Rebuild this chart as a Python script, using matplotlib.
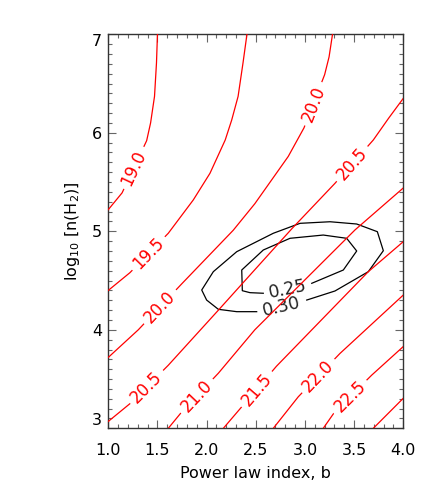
import numpy as np
import matplotlib
matplotlib.use('Agg')
import matplotlib.pyplot as plt
from matplotlib.ticker import MultipleLocator

# column density contours (log10 N), traced as polylines
c190_x = [1.00, 1.14, 1.39, 1.43, 1.47, 1.49, 1.50]
c190_y = [5.22, 5.39, 5.92, 6.10, 6.37, 6.71, 7.00]
c195_x = [1.00, 1.22, 1.61, 1.864, 2.034, 2.189, 2.255, 2.32, 2.37, 2.41]
c195_y = [4.40, 4.58, 4.98, 5.318, 5.589, 5.927, 6.13, 6.37, 6.71, 7.00]
c200_x = [1.00, 1.305, 1.75, 2.27, 2.49, 2.66, 2.83, 2.99, 3.20, 3.245, 3.28]
c200_y = [3.72, 4.00, 4.47, 5.01, 5.28, 5.52, 5.76, 6.05, 6.59, 6.77, 7.00]
c205_x = [1.00, 1.22, 1.61, 2.12, 2.49, 2.87, 3.305, 3.695, 3.85, 4.00]
c205_y = [3.07, 3.25, 3.64, 4.20, 4.61, 5.03, 5.487, 5.927, 6.147, 6.35]
c210_x = [1.61, 1.75, 2.12, 2.49, 3.51, 4.00]
c210_y = [3.00, 3.17, 3.56, 4.00, 5.015, 5.44]
c215_x = [2.17, 2.35, 2.71, 3.644, 4.00]
c215_y = [3.00, 3.21, 3.63, 4.59, 4.895]
c220_x = [2.678, 2.932, 3.356, 4.00]
c220_y = [3.00, 3.32, 3.76, 4.353]
c225_x = [3.186, 3.305, 3.679, 4.00]
c225_y = [3.00, 3.17, 3.54, 3.83]
c230_x = [3.695, 4.00]
c230_y = [3.00, 3.305]

red_lines = [(c190_x, c190_y), (c195_x, c195_y), (c200_x, c200_y),
             (c205_x, c205_y), (c210_x, c210_y), (c215_x, c215_y),
             (c220_x, c220_y), (c225_x, c225_y), (c230_x, c230_y)]
# label text and x position of each label, per contour
red_labels = [['19.0'], ['19.5'], ['20.0', '20.0'], ['20.5', '20.5'], ['21.0'],
              ['21.5'], ['22.0'], ['22.5'], []]
red_label_x = [[1.26], [1.41], [1.526, 3.085], [1.39, 3.48], [1.90],
               [2.51], [3.136], [3.458], []]

# fit quality contours (open where the label sits)
k25_x = [3.069, 3.39, 3.526, 3.424, 3.186, 2.848, 2.576, 2.357, 2.363, 2.441, 2.576]
k25_y = [4.472, 4.607, 4.80, 4.929, 4.962, 4.929, 4.81, 4.607, 4.397, 4.377, 4.371]
k30_x = [3.018, 3.305, 3.644, 3.797, 3.736, 3.526, 3.255, 2.95, 2.678, 2.306,
         2.068, 1.95, 2.0, 2.119, 2.306, 2.509]
k30_y = [4.302, 4.394, 4.59, 4.803, 4.996, 5.074, 5.097, 5.081, 4.98, 4.793,
         4.59, 4.404, 4.302, 4.208, 4.184, 4.184]
black_lines = [(k25_x, k25_y, '0.25'), (k30_x, k30_y, '0.30')]

fig = plt.figure(figsize=(4.36, 4.98), dpi=100)
ax = fig.add_axes([108.3 / 436, 1 - 428.3 / 498, 295 / 436, 394 / 498])
ax.set_xlim(1.0, 4.0)
ax.set_ylim(3.0, 7.0)


def angle_at(xs, ys, i):
    p0 = ax.transData.transform((xs[i], ys[i]))
    p1 = ax.transData.transform((xs[i + 1], ys[i + 1]))
    return np.degrees(np.arctan2(p1[1] - p0[1], p1[0] - p0[0]))


# black contours with labels in their gaps
for xs, ys, lab in black_lines:
    ax.plot(xs, ys, color='black', lw=0.9, zorder=2)
    p0 = ax.transData.transform((xs[-1], ys[-1]))
    p1 = ax.transData.transform((xs[0], ys[0]))
    rot = np.degrees(np.arctan2(p1[1] - p0[1], p1[0] - p0[0]))
    ax.text((xs[0] + xs[-1]) / 2, (ys[0] + ys[-1]) / 2 - 0.005, lab,
            rotation=rot, rotation_mode='anchor', ha='center', va='center',
            fontsize=12.5, color='#222222', zorder=3)

# red contours, labels masked with white boxes
for (xs, ys), labs, lxs in zip(red_lines, red_labels, red_label_x):
    ax.plot(xs, ys, color='red', lw=0.9, zorder=4)
    for lab, lx in zip(labs, lxs):
        ly = np.interp(lx, xs, ys)
        i = min(np.searchsorted(xs, lx) - 1, len(xs) - 2)
        i = max(i, 0)
        rot = angle_at(xs, ys, i)
        ax.text(lx, ly, lab, rotation=rot, rotation_mode='anchor',
                ha='center', va='center', fontsize=12, color='red', zorder=5,
                bbox=dict(facecolor='white', edgecolor='none', pad=3.5))

# IDL-style axes
for sp in ax.spines.values():
    sp.set_color('#333333')
    sp.set_linewidth(1.0)
ax.xaxis.set_major_locator(MultipleLocator(0.5))
ax.xaxis.set_minor_locator(MultipleLocator(0.1))
ax.yaxis.set_major_locator(MultipleLocator(1))
ax.yaxis.set_minor_locator(MultipleLocator(0.1))
ax.tick_params(which='both', direction='in', top=True, right=True,
               color='#666666', width=0.8)
ax.tick_params(which='major', length=6)
ax.tick_params(which='minor', length=3)
ax.tick_params(axis='x', which='major', pad=10.5, labelsize=11.5)
ax.tick_params(axis='y', which='major', pad=4.5, labelsize=11.5)
ax.set_xticks([1.0, 1.5, 2.0, 2.5, 3.0, 3.5, 4.0])
ax.set_xticklabels(['1.0', '1.5', '2.0', '2.5', '3.0', '3.5', '4.0'])
ax.set_yticks([3, 4, 5, 6, 7])
ax.set_yticklabels(['3', '4', '5', '6', '7'])
ylabs = ax.get_yticklabels()
ylabs[0].set_va('bottom')
ylabs[-1].set_va('top')

ax.set_xlabel('Power law index, b', fontsize=11.5, labelpad=6)
ax.set_ylabel(r'log$_{10}$ [n(H$_2$)]', fontsize=11.5, labelpad=7)

plt.savefig('out.png', dpi=100)
plt.close()
